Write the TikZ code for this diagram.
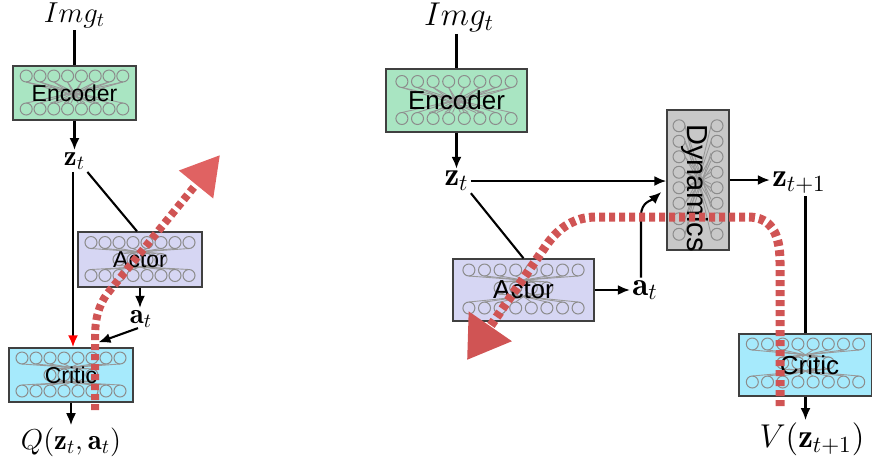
\RequirePackage{fix-cm}
\documentclass[tikz,border=0pt]{standalone}
\usepackage{fontspec}
\setsansfont{Liberation Sans}
\usetikzlibrary{arrows.meta,calc}

\definecolor{encgreen}{RGB}{169,229,194}
\definecolor{actblue}{RGB}{214,214,243}
\definecolor{cricyan}{RGB}{166,234,252}
\definecolor{dyngray}{RGB}{200,200,200}
\definecolor{gradred}{RGB}{208,84,84}
\definecolor{gradtip}{RGB}{224,98,98}

% layers of neurons around a box centre: node, spacing, rows, wires (row/spread/row/spread)
\newcommand{\hlayers}[4]{%
  \foreach \ra/\fa/\rb/\fb in {#4}
    \foreach \i in {-3.5,-2.5,...,3.5}
      \draw[wire] ($(#1)+({\fa*(\i)*#2},{\ra+6})$) -- ($(#1)+({-\fb*(\i)*#2},{\rb-6})$);
  \foreach \r in {#3}
    \foreach \i in {-3.5,-2.5,...,3.5}
      \draw[neuron] ($(#1)+({\i*#2},\r)$) circle[radius=3pt];
}
\newcommand{\midlayer}[3]{%
  \foreach \i in {-1.5,-0.5,...,1.5}
    \draw[neuron] ($(#1)+({\i*#2},#3)$) circle[radius=3pt];
}
\newcommand{\vlayers}[4]{%
  \foreach \ca/\cb in {#4}
    \foreach \i in {-3.5,-2.5,...,3.5} {
      \draw[wire] ($(#1)+({\ca+6},{\i*#2})$) -- ($(#1)+({\cb-6},{-(\i)*#2})$);
      \draw[wire] ($(#1)+({\ca+6},{\i*#2})$) -- ($(#1)+({\cb-6},{-0.5*(\i)*#2})$);
    }
  \foreach \c in {#3}
    \foreach \i in {-3.5,-2.5,...,3.5}
      \draw[neuron] ($(#1)+(\c,{\i*#2})$) circle[radius=3pt];
}

\tikzset{
  netbox/.style={draw=black!75, line width=0.7pt, inner sep=0pt},
  neuron/.style={draw=black!45, line width=0.5pt},
  wire/.style={draw=black!40, line width=0.45pt},
  lsans/.style={font=\sffamily\fontsize{11.5}{13}\selectfont},
  rsans/.style={font=\sffamily\fontsize{13}{15}\selectfont},
  lmath/.style={inner sep=1pt, font=\fontsize{14.4}{16}\selectfont},
  rmath/.style={inner sep=1pt, font=\fontsize{16.5}{18}\selectfont},
  link/.style={line width=1.05pt},
  arr/.style={link, -{Latex[length=6pt,width=5pt]}},
  grad/.style={draw=gradred, dash pattern=on 3pt off 2pt},
}

\begin{document}
\begin{tikzpicture}[x=0.5pt,y=-0.5pt]
\useasboundingbox (0,0) rectangle (872,463);

% actor-critic on the encoded state
\node[lmath] (img1) at (74.5,15) {$Img_t$};
\node[netbox,fill=encgreen,minimum width=61.5pt,minimum height=27pt] (enc1) at (74.5,93) {};
\node[netbox,fill=actblue,minimum width=62pt,minimum height=27.5pt] (act1) at (140,259.5) {};
\node[netbox,fill=cricyan,minimum width=62pt,minimum height=27pt] (cri1) at (71,375) {};
\hlayers{enc1}{13.8}{-17,16}{-17/1/16/1,-17/1/16/0.5}
\hlayers{act1}{14}{-17,16}{-17/1/0/0.45,0/0.45/16/1}
\midlayer{act1}{14}{0}
\hlayers{cri1}{14}{-17,16}{-17/1/0/0.45,0/0.45/16/1}
\midlayer{cri1}{14}{0}
\node[lsans] (enc1txt) at (enc1) {Encoder};
\node[lsans] (act1txt) at (act1) {Actor};
\node[lsans] (cri1txt) at (cri1) {Critic};
\node[lmath] (z1) at (74.5,161) {$\mathbf{z}_t$};
\node[lmath] (a1) at (141,319) {$\mathbf{a}_t$};
\node[lmath] (q1) at (71,442) {$Q(\mathbf{z}_t,\mathbf{a}_t)$};

\coordinate (zdown) at ($(z1.south)+(-1.5,0)$);
\draw[link] (img1.south) -- (enc1.north);
\draw[arr] (enc1.south) -- (z1.north);
\draw[link,-{Latex[length=6pt,width=5pt,color=red]}] (zdown) -- (zdown |- cri1.north);
\draw[link] (z1.south east) -- ($(act1.north)+(-3,0)$);
\draw[arr] (act1.south) -- (act1.south |- a1.north);
\draw[arr] ($(a1.south)+(-3,-2)$) -- ($(cri1.north)+(27.5,-5)$);
\draw[arr] (cri1.south) -- (cri1.south |- q1.north);

% model-based value through the dynamics
\node[rmath] (img2) at (459,17) {$Img_t$};
\node[netbox,fill=encgreen,minimum width=70.5pt,minimum height=31.5pt] (enc2) at (456.5,100.5) {};
\node[netbox,fill=dyngray,minimum width=31pt,minimum height=70pt] (dyn) at (698,180) {};
\node[netbox,fill=actblue,minimum width=70.5pt,minimum height=31pt] (act2) at (523.5,290) {};
\node[netbox,fill=cricyan,minimum width=66.5pt,minimum height=31pt] (cri2) at (805.5,365) {};
\hlayers{enc2}{15.6}{-19,18}{-19/1/18/1,-19/1/18/0.5}
\vlayers{dyn}{15.5}{-19,19}{-19/19}
\hlayers{act2}{15.6}{-20,18}{-20/1/-2/0.45,-2/0.45/18/1}
\midlayer{act2}{15.6}{-2}
\hlayers{cri2}{15.2}{-21,17}{-21/1/-2/0.45,-2/0.45/17/1}
\midlayer{cri2}{15.2}{-2}
\node[rsans] (enc2txt) at (enc2) {Encoder};
\node[font=\sffamily\fontsize{14.5}{16}\selectfont,rotate=-90] (dyntxt) at ($(dyn)+(-3,8)$) {Dynamics};
\node[rsans] (act2txt) at (act2) {Actor};
\node[rsans] (cri2txt) at ($(cri2)+(4,0)$) {Critic};
\node[rmath] (z2) at (456.5,181) {$\mathbf{z}_t$};
\node[rmath] (z3) at (799,183) {$\mathbf{z}_{t+1}$};
\node[rmath] (a2) at (645,290) {$\mathbf{a}_t$};
\node[rmath] (v2) at (812,439) {$V(\mathbf{z}_{t+1})$};

\draw[link] (img2.south -| enc2.north) -- (enc2.north);
\draw[arr] (enc2.south) -- (enc2.south |- z2.north);
\draw[arr] (z2.east) -- (z2.east -| dyn.west);
\draw[arr] (dyn.east) -- (dyn.east -| z3.west);
\draw[link] (cri2.north |- z3.south) -- (cri2.north);
\draw[arr] (cri2.south) -- (cri2.south |- v2.north);
\draw[link] (z2.south east) -- (act2.north);
\draw[arr] (act2.east) -- (act2.east -| a2.west);
\draw[arr] ($(a2.north)+(-4,0)$) -- ($(a2.north)+(-4,-62)$)
  .. controls ($(a2.north)+(-4,-76)$) and ($(dyn.west)+(-14,20)$) .. ($(dyn.west)+(-5,12)$);

% gradient flow
\draw[grad,line width=4pt,-{Triangle[length=19pt,width=21pt,color=gradtip]}]
  (95,410) -- (95,338) .. controls (95,318) and (99,305) .. (107,294) -- (220,155);
\draw[grad,line width=4.5pt,-{Triangle[length=20.5pt,width=25pt]}]
  (780,406) -- (780,262) .. controls (780,232) and (770,217) .. (748,217) -- (596,217)
  .. controls (572,217) and (556,230) .. (543,250) -- (467,360);
\end{tikzpicture}
\end{document}
